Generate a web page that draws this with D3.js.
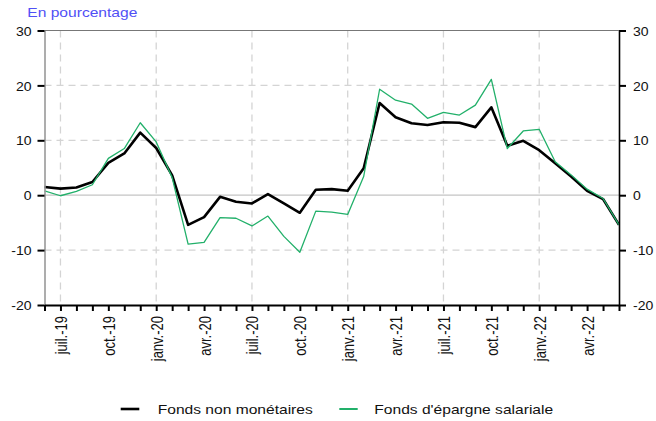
<!DOCTYPE html>
<html>
<head>
<meta charset="utf-8">
<script src="https://cdn.jsdelivr.net/npm/d3@7"></script>
<style>
  html, body { margin: 0; padding: 0; background: #fff; }
  svg { display: block; font-family: "Liberation Sans", Arial, Helvetica, sans-serif; }
</style>
</head>
<body>
<svg id="chart" width="656" height="421"></svg>
<script>
// ---- data ----
const months = ["2019-06","2019-07","2019-08","2019-09","2019-10","2019-11","2019-12",
  "2020-01","2020-02","2020-03","2020-04","2020-05","2020-06","2020-07","2020-08","2020-09","2020-10","2020-11","2020-12",
  "2021-01","2021-02","2021-03","2021-04","2021-05","2021-06","2021-07","2021-08","2021-09","2021-10","2021-11","2021-12",
  "2022-01","2022-02","2022-03","2022-04","2022-05","2022-06"];
const fondsNonMonetaires = [1.5,1.2,1.4,2.4,5.9,7.6,11.4,8.6,3.6,-5.4,-4.0,-0.3,-1.2,-1.5,0.2,-1.5,-3.2,1.0,1.1,
  0.8,4.9,16.8,14.2,13.1,12.8,13.3,13.2,12.4,16.0,9.0,9.9,8.2,5.8,3.4,0.8,-0.7,-5.4];
const fondsEpargneSalariale = [0.8,-0.1,0.7,1.9,6.7,8.5,13.2,9.7,3.2,-8.9,-8.6,-4.1,-4.2,-5.6,-3.8,-7.5,-10.4,-2.9,-3.1,
  -3.5,3.4,19.3,17.3,16.6,14.0,15.1,14.6,16.4,21.1,8.5,11.7,12.0,6.1,3.7,1.1,-0.6,-5.4];
const labelMonths = ["2019-07","2019-10","2020-01","2020-04","2020-07","2020-10","2021-01","2021-04","2021-07","2021-10","2022-01","2022-04"];
const labelTexts = ["juil.-19","oct.-19","janv.-20","avr.-20","juil.-20","oct.-20","janv.-21","avr.-21","juil.-21","oct.-21","janv.-22","avr.-22"];
const gridMonths = ["2019-07","2020-01","2020-07","2021-01","2021-07","2022-01"];
const yTicks = [-20,-10,0,10,20,30];
const yTickLabels = ["-20","-10","0","10","20","30"];
const seriesNames = ["Fonds non monétaires","Fonds d'épargne salariale"];
const seriesColors = ["#000000","#22b06a"];
const title = "En pourcentage";

// ---- layout ----
const SX = 1.2;   // horizontal stretch of text in reference
const SXN = 1.08; // stretch of numeric tick labels
const L = 44.5, R = 619, T = 30.5, B = 305;
const svg = d3.select("#chart");
const x = d3.scalePoint().domain(months).range([L, R]).padding(0);
const y = d3.scaleLinear().domain([-20, 30]).range([B, T]);
const yFmt = d => yTickLabels[yTicks.indexOf(d)];

// gridlines
const grid = svg.append("g");
grid.selectAll("line.h").data(yTicks.filter(v => v !== -20 && v !== 30)).join("line")
  .attr("x1", L).attr("x2", R).attr("y1", d => y(d)).attr("y2", d => y(d))
  .attr("stroke", d => d === 0 ? "#c4c4c4" : "#d4d4d4")
  .attr("stroke-width", 1.3)
  .attr("stroke-dasharray", d => d === 0 ? null : "7,5");
grid.selectAll("line.v").data(gridMonths).join("line")
  .attr("x1", d => x(d)).attr("x2", d => x(d)).attr("y1", T).attr("y2", B)
  .attr("stroke", "#d4d4d4").attr("stroke-width", 1.3).attr("stroke-dasharray", "7,5");
// top border
svg.append("line").attr("x1", L).attr("x2", R).attr("y1", y(30)).attr("y2", y(30))
  .attr("stroke", "#777").attr("stroke-width", 1);

// lines
const line = d3.line().x((d, i) => x(months[i])).y(d => y(d));
svg.append("path").datum(fondsNonMonetaires).attr("d", line)
  .attr("fill", "none").attr("stroke", seriesColors[0]).attr("stroke-width", 2.6).attr("stroke-linejoin", "round");
svg.append("path").datum(fondsEpargneSalariale).attr("d", line)
  .attr("fill", "none").attr("stroke", seriesColors[1]).attr("stroke-width", 1.3).attr("stroke-linejoin", "round");

// left axis
const gl = svg.append("g").attr("transform", `translate(${L},0)`)
  .call(d3.axisLeft(y).tickValues(yTicks).tickSize(7).tickSizeOuter(0).tickFormat(yFmt));
gl.select(".domain").attr("stroke", "#999").attr("stroke-width", 1.6);
gl.selectAll(".tick line").attr("stroke", "#000").attr("stroke-width", 2);
gl.selectAll(".tick text").attr("font-size", 13).attr("fill", "#111").attr("font-family", null)
  .attr("x", -13 / SXN).attr("dy", "0.36em").attr("transform", `scale(${SXN},1)`);

// right axis
const gr = svg.append("g").attr("transform", `translate(${R},0)`)
  .call(d3.axisRight(y).tickValues(yTicks).tickSize(7).tickSizeOuter(0).tickFormat(yFmt));
gr.select(".domain").attr("stroke", "#000").attr("stroke-width", 1.6);
gr.selectAll(".tick line").attr("stroke", "#000").attr("stroke-width", 2);
gr.selectAll(".tick text").attr("font-size", 13).attr("fill", "#111").attr("font-family", null)
  .attr("x", 14 / SXN).attr("dy", "0.36em").attr("transform", `scale(${SXN},1)`);

// bottom axis
const gb = svg.append("g").attr("transform", `translate(0,${B})`)
  .call(d3.axisBottom(x).tickSize(6).tickSizeOuter(0)
    .tickFormat(d => { const k = labelMonths.indexOf(d); return k >= 0 ? labelTexts[k] : ""; }));
gb.select(".domain").attr("stroke", "#000").attr("stroke-width", 1.8);
gb.selectAll(".tick line").attr("stroke", "#000").attr("stroke-width", 2);
gb.selectAll(".tick text").attr("font-size", 13).attr("fill", "#111").attr("font-family", null)
  .attr("x", 0).attr("y", 0).attr("dy", 0)
  .attr("text-anchor", "end")
  .attr("transform", `translate(6,11) scale(${SX},1) rotate(-90)`);

// title
svg.append("text").attr("transform", `translate(27.3,16.6) scale(${SX},1)`)
  .attr("font-size", 13).attr("fill", "#5050f5").text(title);

// legend
const legX = [[120.7, 139.3, 157.7], [339.3, 357.7, 374.3]];
const legY = 409;
seriesNames.forEach((name, i) => {
  svg.append("line").attr("x1", legX[i][0]).attr("x2", legX[i][1]).attr("y1", legY).attr("y2", legY)
    .attr("stroke", seriesColors[i]).attr("stroke-width", i === 0 ? 2.6 : 2);
  svg.append("text").attr("transform", `translate(${legX[i][2]},${legY + 4.6}) scale(${SX},1)`)
    .attr("font-size", 13).attr("fill", "#111").text(name);
});
</script>
</body>
</html>
